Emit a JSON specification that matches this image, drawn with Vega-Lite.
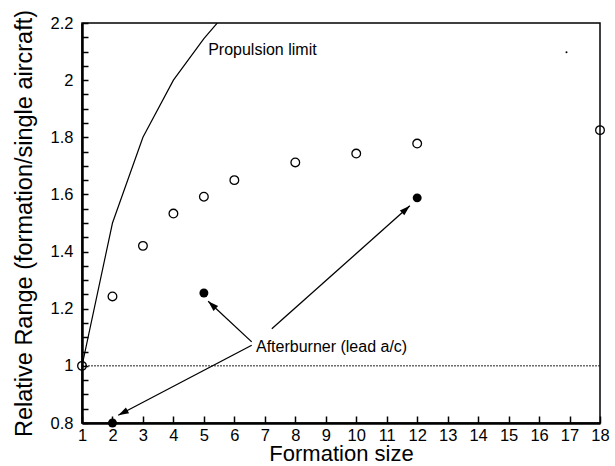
{
  "$schema": "https://vega.github.io/schema/vega-lite/v6.json",
  "width": 518,
  "height": 400,
  "autosize": {"type": "none"},
  "padding": {"left": 82, "top": 23, "right": 15, "bottom": 43},
  "background": "white",
  "config": {
    "font": "Liberation Sans",
    "view": {"stroke": "black", "strokeWidth": 1.5}
  },
  "resolve": {"axis": {"x": "independent", "y": "independent"}},
  "datasets": {
    "open": [
      {"n": 1, "r": 1.0},
      {"n": 2, "r": 1.243},
      {"n": 3, "r": 1.42},
      {"n": 4, "r": 1.533},
      {"n": 5, "r": 1.592},
      {"n": 6, "r": 1.65},
      {"n": 8, "r": 1.712},
      {"n": 10, "r": 1.743},
      {"n": 12, "r": 1.778},
      {"n": 18, "r": 1.825}
    ],
    "filled": [
      {"n": 2, "r": 0.8},
      {"n": 5, "r": 1.255},
      {"n": 12, "r": 1.588}
    ],
    "limit": [
      {"n": 1, "r": 1.0},
      {"n": 2, "r": 1.5},
      {"n": 3, "r": 1.8},
      {"n": 4, "r": 2.0},
      {"n": 5, "r": 2.145},
      {"n": 6, "r": 2.27}
    ],
    "arrows": [
      {"id": "a5", "n": 6.57, "r": 1.084, "n2": 5.14, "r2": 1.226},
      {"id": "a2", "n": 6.57, "r": 1.072, "n2": 2.19, "r2": 0.827},
      {"id": "a12", "n": 7.23, "r": 1.13, "n2": 11.76, "r2": 1.56}
    ],
    "labels": [
      {"n": 5.14, "r": 2.104, "t": "Propulsion limit"},
      {"n": 6.71, "r": 1.067, "t": "Afterburner (lead a/c)"}
    ],
    "baseline": [{"n": 1, "n2": 18, "r": 1}],
    "speck": [{"n": 16.9, "r": 2.098}]
  },
  "encoding": {
    "x": {
      "field": "n", "type": "quantitative",
      "scale": {"domain": [1, 18], "nice": false, "zero": false},
      "axis": null
    },
    "y": {
      "field": "r", "type": "quantitative",
      "scale": {"domain": [0.8, 2.2], "nice": false, "zero": false},
      "axis": null
    }
  },
  "layer": [
    {
      "data": {"name": "baseline"},
      "mark": {"type": "rule", "strokeDash": [2, 1], "strokeWidth": 1, "color": "#222"},
      "encoding": {
        "x": {
          "field": "n", "type": "quantitative",
          "axis": {
            "orient": "bottom",
            "title": "Formation size",
            "titleFontSize": 22,
            "titleFont": "Liberation Sans",
            "titleFontWeight": "normal",
            "titleColor": "black",
            "values": [1,2,3,4,5,6,7,8,9,10,11,12,13,14,15,16,17,18],
            "ticks": false,
            "domainColor": "black",
            "domainWidth": 2.5,
            "labelColor": "black",
            "labelFont": "Liberation Sans",
            "labelFontSize": 16.5,
            "labelOverlap": false,
            "labelPadding": 4,
            "titlePadding": 0,
            "labelFlush": false,
            "grid": false,
            "zindex": 1
          }
        },
        "x2": {"field": "n2"},
        "y": {
          "field": "r", "type": "quantitative",
          "axis": {
            "orient": "left",
            "title": "Relative Range (formation/single aircraft)",
            "titleFontSize": 23.5,
            "titleFont": "Liberation Sans",
            "titleFontWeight": "normal",
            "titleColor": "black",
            "values": [0.8,1,1.2,1.4,1.6,1.8,2,2.2],
            "format": ".1~f",
            "ticks": false,
            "domainColor": "black",
            "domainWidth": 2.5,
            "labelColor": "black",
            "labelFont": "Liberation Sans",
            "labelFontSize": 16.5,
            "labelOverlap": false,
            "labelPadding": 9,
            "titlePadding": 14,
            "labelFlush": false,
            "grid": false,
            "zindex": 1
          }
        }
      }
    },
    {
      "data": {"name": "limit"},
      "mark": {"type": "line", "color": "black", "strokeWidth": 1.2, "clip": true},
      "encoding": {
        "x": {
          "field": "n", "type": "quantitative",
          "axis": {
            "orient": "bottom",
            "title": null,
            "labels": false,
            "domain": false,
            "grid": false,
            "values": [1,2,3,4,5,6,7,8,9,10,11,12,13,14,15,16,17,18],
            "ticks": true,
            "tickSize": 7,
            "tickColor": "black",
            "tickWidth": 1.5,
            "offset": -7,
            "zindex": 1
          }
        },
        "y": {
          "field": "r", "type": "quantitative",
          "axis": {
            "orient": "left",
            "title": null,
            "labels": false,
            "domain": false,
            "grid": false,
            "values": [0.8,0.85,0.9,0.95,1,1.05,1.1,1.15,1.2,1.25,1.3,1.35,1.4,1.45,1.5,1.55,1.6,1.65,1.7,1.75,1.8,1.85,1.9,1.95,2,2.05,2.1,2.15,2.2],
            "ticks": true,
            "tickSize": 6,
            "tickColor": "black",
            "tickWidth": 1.5,
            "offset": -6,
            "zindex": 1
          }
        }
      }
    },
    {
      "data": {"name": "arrows"},
      "mark": {"type": "rule", "color": "black", "strokeWidth": 1.3},
      "encoding": {
        "x2": {"field": "n2"},
        "y2": {"field": "r2"}
      }
    },
    {
      "data": {"name": "arrows"},
      "transform": [{"filter": "datum.id == 'a5'"}],
      "mark": {"type": "point", "shape": "M0,0L-0.32,1L0.32,1Z", "filled": true, "color": "black", "size": 440, "angle": 313, "opacity": 1},
      "encoding": {
        "x": {"field": "n2", "type": "quantitative", "axis": null},
        "y": {"field": "r2", "type": "quantitative", "axis": null}
      }
    },
    {
      "data": {"name": "arrows"},
      "transform": [{"filter": "datum.id == 'a2'"}],
      "mark": {"type": "point", "shape": "M0,0L-0.32,1L0.32,1Z", "filled": true, "color": "black", "size": 440, "angle": 242, "opacity": 1},
      "encoding": {
        "x": {"field": "n2", "type": "quantitative", "axis": null},
        "y": {"field": "r2", "type": "quantitative", "axis": null}
      }
    },
    {
      "data": {"name": "arrows"},
      "transform": [{"filter": "datum.id == 'a12'"}],
      "mark": {"type": "point", "shape": "M0,0L-0.32,1L0.32,1Z", "filled": true, "color": "black", "size": 440, "angle": 48, "opacity": 1},
      "encoding": {
        "x": {"field": "n2", "type": "quantitative", "axis": null},
        "y": {"field": "r2", "type": "quantitative", "axis": null}
      }
    },
    {
      "data": {"name": "open"},
      "mark": {"type": "point", "shape": "circle", "filled": false, "color": "black", "strokeWidth": 1.3, "size": 75, "opacity": 1},
      "encoding": {}
    },
    {
      "data": {"name": "filled"},
      "mark": {"type": "point", "shape": "circle", "filled": true, "color": "black", "size": 80, "opacity": 1},
      "encoding": {}
    },
    {
      "data": {"name": "speck"},
      "mark": {"type": "point", "shape": "circle", "filled": true, "color": "black", "size": 4, "opacity": 1},
      "encoding": {}
    },
    {
      "data": {"name": "labels"},
      "mark": {"type": "text", "align": "left", "baseline": "middle", "fontSize": 16, "font": "Liberation Sans", "color": "black"},
      "encoding": {
        "text": {"field": "t"}
      }
    }
  ]
}
